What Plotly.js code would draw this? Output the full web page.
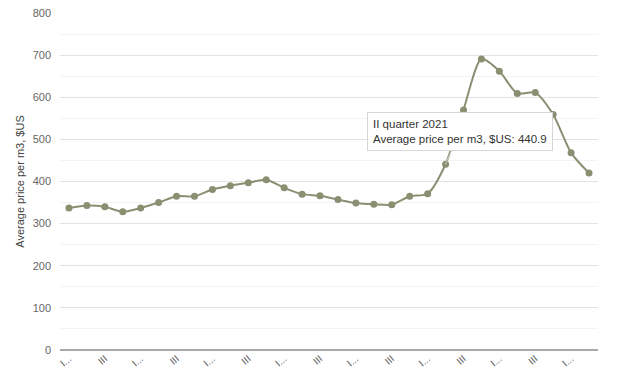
<!DOCTYPE html>
<html>
<head>
<meta charset="utf-8">
<script src="https://cdn.plot.ly/plotly-3.0.1.min.js"></script>
<style>
html, body { margin: 0; padding: 0; background: #fff; }
#chart { width: 624px; height: 380px; }
</style>
</head>
<body>
<div id="chart"></div>
<script>
var quarters = [
  "I quarter 2016", "II quarter 2016", "III quarter 2016", "IV quarter 2016",
  "I quarter 2017", "II quarter 2017", "III quarter 2017", "IV quarter 2017",
  "I quarter 2018", "II quarter 2018", "III quarter 2018", "IV quarter 2018",
  "I quarter 2019", "II quarter 2019", "III quarter 2019", "IV quarter 2019",
  "I quarter 2020", "II quarter 2020", "III quarter 2020", "IV quarter 2020",
  "I quarter 2021", "II quarter 2021", "III quarter 2021", "IV quarter 2021",
  "I quarter 2022", "II quarter 2022", "III quarter 2022", "IV quarter 2022",
  "I quarter 2023", "II quarter 2023"
];
var prices = [
  337, 343, 340, 328,
  337, 350, 365, 365,
  381, 390, 397, 404,
  385, 370, 366, 357,
  349, 346, 345, 365,
  371, 440.9, 570, 691,
  662, 609, 611, 559,
  468, 420
];
var tickQuarters = quarters.filter(function (q, i) { return i % 2 === 0; });
var tickLabels = ["I...", "III", "I...", "III", "I...", "III", "I...", "III",
                  "I...", "III", "I...", "III", "I...", "III", "I..."];
var seriesName = "Average price per m3, $US";
var highlightIndex = 21;

var trace = {
  x: quarters,
  y: prices,
  type: "scatter",
  mode: "lines+markers",
  name: seriesName,
  line: { color: "#8c8e72", width: 2, shape: "spline", smoothing: 0.7 },
  marker: { color: "#8c8e72", size: 7 },
  hoverinfo: "none"
};

var layout = {
  width: 624,
  height: 380,
  margin: { l: 60, r: 26, t: 13, b: 30 },
  paper_bgcolor: "#ffffff",
  plot_bgcolor: "#ffffff",
  showlegend: false,
  font: { family: "Liberation Sans, Arial, sans-serif", size: 11, color: "#666666" },
  xaxis: {
    type: "category",
    range: [-0.5, quarters.length - 0.5],
    tickmode: "array",
    tickvals: tickQuarters,
    ticktext: tickLabels,
    tickangle: -40,
    tickfont: { size: 10, color: "#666666" },
    showgrid: false,
    zeroline: false,
    showline: false,
    ticks: "",
    fixedrange: true
  },
  yaxis: {
    range: [0, 800],
    dtick: 100,
    tick0: 0,
    showgrid: true,
    gridcolor: "#e3e3e3",
    gridwidth: 1,
    minor: { dtick: 50, showgrid: true, gridcolor: "#f3f3f3", gridwidth: 1 },
    zeroline: true,
    zerolinecolor: "#a8a8a8",
    zerolinewidth: 2,
    ticks: "",
    ticklabelstandoff: 8,
    tickfont: { size: 11, color: "#666666" },
    title: { text: seriesName, font: { size: 11, color: "#444444" }, standoff: 5 },
    fixedrange: true
  },
  annotations: [{
    x: quarters[highlightIndex],
    y: prices[highlightIndex],
    xref: "x",
    yref: "y",
    text: quarters[highlightIndex] + "<br>" + seriesName + ": " + prices[highlightIndex],
    showarrow: true,
    arrowhead: 0,
    arrowwidth: 1,
    arrowcolor: "#d0d0d0",
    ax: 14,
    ay: -33,
    align: "left",
    bgcolor: "#ffffff",
    bordercolor: "#d6d6d6",
    borderwidth: 1,
    borderpad: 5,
    font: { size: 11.5, color: "#333333", family: "Liberation Sans, Arial, sans-serif" }
  }]
};

Plotly.newPlot("chart", [trace], layout, { displayModeBar: false, staticPlot: true });
</script>
</body>
</html>
